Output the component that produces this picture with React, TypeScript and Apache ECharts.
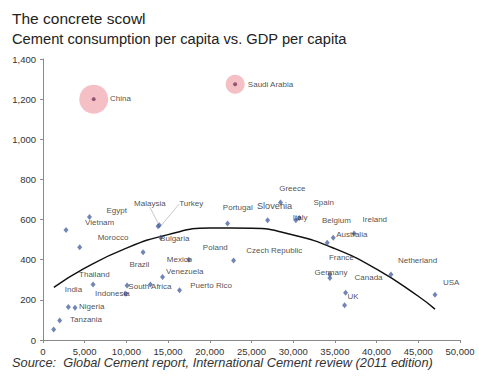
import React, { useEffect, useRef } from "react";
import * as echarts from "echarts";

// ---- data ----
const countries = ["", "Tanzania", "India", "Nigeria", "Vietnam", "Egypt", "Morocco", "Thailand", "Indonesia", "South Africa", " ", "Brazil", "Malaysia", "Turkey", "Bulgaria", "Venezuela", "Puerto Rico", "Mexico", "Portugal", "Poland", "Slovenia", "Greece", "Italy", "Spain", "Belgium", "Australia", "Ireland", "France", "Germany", "Netherland", "UK", "  ", "USA"];
const gdpPerCapita = [1280, 2000, 3040, 3840, 2760, 5570, 4400, 6000, 9920, 10080, 12880, 12000, 13800, 13950, 14100, 14330, 16370, 17480, 22130, 22850, 26930, 28480, 30320, 30720, 34080, 34800, 37300, 34400, 34400, 41720, 36280, 36160, 47000];
const cementPerCapita = [52, 97, 165, 161, 548, 613, 462, 276, 231, 272, 276, 437, 567, 572, 511, 314, 248, 400, 581, 396, 596, 685, 596, 608, 485, 510, 530, 326, 309, 326, 236, 173, 226];

const bubbleCountries = ["China", "Saudi Arabia"];
const bubbleGdp = [6080, 23040];
const bubbleCement = [1200, 1274];

const trendGdp = [1300, 5000, 10000, 15000, 20000, 25000, 30000, 35000, 40000, 45000, 47000];
const trendCement = [262, 358, 458, 525, 558, 557, 523, 455, 353, 218, 154];

const extraLabels = [
  { text: "Czech Republic", of: "Poland" },
  { text: "Canada", of: "Netherland" },
];

// ---- presentation ----
const labelOffsets: Record<string, [number, number]> = {
  Tanzania: [10.3, -1.2],
  India: [-3.6, -16.9],
  Nigeria: [4, -0.7],
  Vietnam: [19, -8],
  Egypt: [17, -6],
  Morocco: [18, -9.3],
  Thailand: [-14, -10],
  Indonesia: [-30.7, 0],
  "South Africa": [1.3, 0.6],
  Brazil: [-13.7, 12.7],
  Malaysia: [-24, -23],
  Turkey: [19.8, -21.2],
  Bulgaria: [-0.5, 0.6],
  Venezuela: [3.6, -5.7],
  "Puerto Rico": [10.6, -4.9],
  Mexico: [-22, -0.7],
  Portugal: [-4.7, -15.7],
  Poland: [-30.7, -13.2],
  Slovenia: [-10.7, -14.4],
  Greece: [-1.3, -14.2],
  Italy: [-3, -2.7],
  Spain: [14.3, -15.3],
  Belgium: [-5.3, -21.7],
  Australia: [3, -3.6],
  Ireland: [8.5, -14.3],
  France: [-1, -17.3],
  Germany: [-15.4, -5.7],
  Netherland: [7, -13.6],
  UK: [2, 4.1],
  USA: [8, -11.9],
  "Czech Republic": [12.6, -9.8],
  Canada: [-36.4, 3.4],
  China: [16.3, -0.9],
  "Saudi Arabia": [12.7, 0.7],
};
const arrowLabels = ["Malaysia", "Turkey"];
const bubbleSizes: Record<string, number> = { China: 29, "Saudi Arabia": 19 };
const FONT = "'Liberation Sans', Arial, sans-serif";

function labelFor(name: string) {
  const off = labelOffsets[name] || [0, 0];
  return {
    show: name.trim() !== "",
    position: "inside" as const,
    align: "left" as const,
    verticalAlign: "middle" as const,
    offset: off,
    formatter: "{b}",
    fontSize: name === "Slovenia" ? 9.2 : 8,
    fontFamily: FONT,
    color: "#222",
  };
}

export default function App() {
  const ref = useRef<HTMLDivElement>(null);
  useEffect(() => {
    if (!ref.current) return;
    const chart = echarts.init(ref.current, undefined, { renderer: "svg" });
    const fmt = (v: number) => v.toLocaleString("en-US");
    const option: any = {
      animation: false,
      backgroundColor: "#fff",
      title: [
        {
          text: "The concrete scowl",
          left: 7,
          top: 5,
          textStyle: { fontFamily: FONT, fontSize: 15.5, fontWeight: "normal", color: "#222" },
        },
        {
          text: "Cement consumption per capita vs. GDP per capita",
          left: 7,
          top: 26,
          textStyle: { fontFamily: FONT, fontSize: 14.7, fontWeight: "normal", color: "#222" },
        },
        {
          text: "Source:\u00a0 Global Cement report, International Cement review (2011 edition)",
          left: 7,
          top: 351,
          textStyle: { fontFamily: FONT, fontSize: 12.8, fontStyle: "italic", fontWeight: "normal", color: "#333" },
        },
      ],
      grid: { left: 43, right: 19, top: 59, bottom: 41 },
      xAxis: {
        type: "value",
        min: 0,
        max: 50000,
        interval: 5000,
        axisLine: { show: true, lineStyle: { color: "#8a8a8a" } },
        axisTick: { show: true, length: 3, lineStyle: { color: "#8a8a8a" } },
        splitLine: { show: false },
        axisLabel: { formatter: fmt, fontSize: 9.5, fontFamily: FONT, color: "#333", margin: 6 },
      },
      yAxis: {
        type: "value",
        min: 0,
        max: 1400,
        interval: 200,
        axisLine: { show: true, lineStyle: { color: "#8a8a8a" } },
        axisTick: { show: true, length: 3, lineStyle: { color: "#8a8a8a" } },
        splitLine: { show: false },
        axisLabel: { formatter: fmt, fontSize: 9.5, fontFamily: FONT, color: "#333", margin: 7 },
      },
      series: [
        {
          type: "line",
          data: trendGdp.map((g, i) => [g, trendCement[i]]),
          smooth: true,
          showSymbol: false,
          symbol: "none",
          lineStyle: { color: "#111", width: 1.5 },
          z: 2,
          silent: true,
        },
        {
          type: "scatter",
          symbol: "circle",
          data: bubbleCountries.map((n, i) => ({
            name: n,
            value: [bubbleGdp[i], bubbleCement[i]],
            symbolSize: bubbleSizes[n],
          })),
          itemStyle: { color: "rgba(236,150,158,0.75)" },
          z: 3,
        },
        {
          type: "scatter",
          symbol: "circle",
          symbolSize: 4,
          data: bubbleCountries.map((n, i) => ({
            name: n,
            value: [bubbleGdp[i], bubbleCement[i]],
            label: labelFor(n),
          })),
          itemStyle: { color: "#7a3a5a" },
          z: 4,
        },
        {
          type: "scatter",
          symbol: "diamond",
          symbolSize: [5, 6],
          data: countries.map((n, i) => ({
            name: n,
            value: [gdpPerCapita[i], cementPerCapita[i]],
            label: labelFor(n),
            labelLine: arrowLabels.includes(n)
              ? { show: true, lineStyle: { color: "#c8c8c8", width: 1 } }
              : { show: false },
          })),
          itemStyle: { color: "#4d68a3" },
          z: 5,
        },
        {
          type: "scatter",
          symbol: "circle",
          symbolSize: 1,
          data: extraLabels.map((e) => {
            const i = countries.indexOf(e.of);
            return {
              name: e.text,
              value: [gdpPerCapita[i], cementPerCapita[i]],
              label: labelFor(e.text),
            };
          }),
          itemStyle: { color: "rgba(0,0,0,0)" },
          z: 6,
        },
      ],
    };
    chart.setOption(option);
    return () => chart.dispose();
  }, []);
  return <div ref={ref} style={{ width: 479, height: 381, position: "absolute", left: 0, top: 0 }} />;
}
